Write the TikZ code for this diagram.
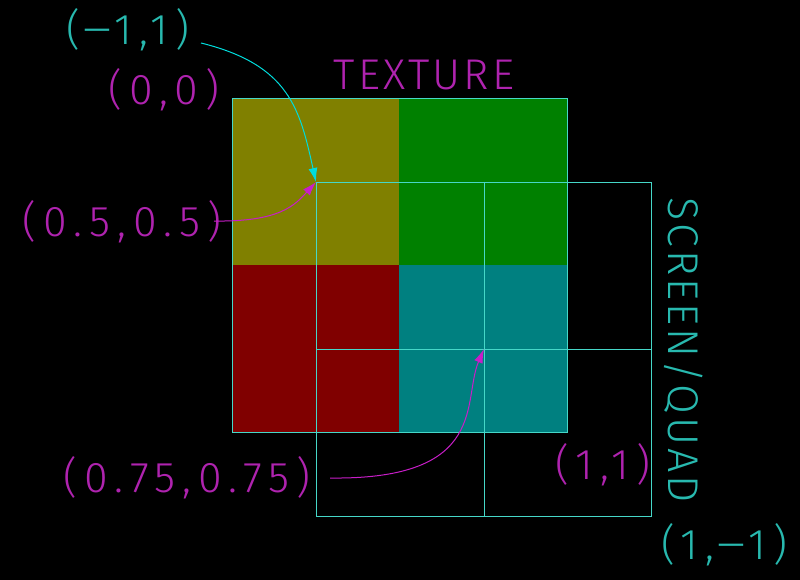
\documentclass[tikz,border=0pt]{standalone}
\usepackage{fontspec}
\setmainfont{Fira Sans Light}
\newfontfamily\coordfont[LetterSpace=16]{Fira Sans Light}
\newfontfamily\wordfont[LetterSpace=7]{Fira Sans Light}
\usetikzlibrary{arrows.meta}
\usepackage{xcolor}
\usepackage{graphicx}
\definecolor{olivetex}{RGB}{128,128,0}
\definecolor{greentex}{RGB}{0,128,0}
\definecolor{redtex}{RGB}{128,0,0}
\definecolor{tealtex}{RGB}{0,128,128}
\definecolor{quadline}{RGB}{70,215,200}
\definecolor{cyantext}{RGB}{40,185,175}
\definecolor{magtext}{RGB}{175,35,175}
\definecolor{cyanarrow}{RGB}{0,220,220}
\definecolor{magarrow}{RGB}{200,30,200}
\newcommand{\longminus}{\scalebox{1.6}[1]{−}}

\begin{document}
\begin{tikzpicture}[x=1pt,y=-1pt]

    \tikzset{coord/.style = {inner sep=0pt,font=\coordfont\fontsize{43}{43}\selectfont}}
    \tikzset{word/.style = {inner sep=0pt,font=\wordfont\fontsize{43}{43}\selectfont}}
    \tikzset{gridline/.style = {draw=quadline,line width=0.9pt}}
    \tikzset{pointer/.style = {-{Latex[length=14pt,width=9pt]},line width=1pt}}
    \fill[black] (0,0) rectangle (800,580);
    \useasboundingbox (0,0) rectangle (800,580);
    %texture
    \coordinate (T1) at (232,98);
    \coordinate (T2) at (399,265);
    \coordinate (T3) at (567,432);
    \fill[olivetex] (T1) rectangle (T2);
    \fill[greentex] (399,98) rectangle (567,265);
    \fill[redtex] (232,265) rectangle (399,432);
    \fill[tealtex] (T2) rectangle (T3);
    \draw[gridline] (T1) rectangle (T3);
    %screen quad
    \coordinate (Q1) at (316,182);
    \coordinate (Q2) at (484,349);
    \coordinate (Q3) at (651,516);
    \draw[gridline] (Q1) rectangle (Q3);
    \draw[gridline] (Q2 |- Q1) -- (Q2 |- Q3);
    \draw[gridline] (Q1 |- Q2) -- (Q3 |- Q2);
    %labels
    \node[coord,text=cyantext] (A) at (128,30) {(\longminus1,1)};
    \node[coord,text=magtext] (B) at (164,90) {(0,0)};
    \node[word,text=magtext] (C) at (424,75) {TEXTURE};
    \node[coord,text=magtext] (D) at (122,222) {(0.5,0.5)};
    \node[coord,text=magtext] (E) at (187,478) {(0.75,0.75)};
    \node[coord,text=magtext] (F) at (603,465) {(1,1)};
    \node[word,text=cyantext,rotate=-90] (G) at (684,350) {SCREEN/QUAD};
    \node[coord,text=cyantext] (H) at (724,545) {(1,\longminus1)};
    %arrows
    \coordinate (a) at (201,43);
    \coordinate (d) at (214,221);
    \coordinate (e) at (330,478);
    \draw[pointer,cyanarrow] (a) .. controls (290,65) and (300,110) .. (Q1);
    \draw[pointer,magarrow] (d) .. controls (280,222) and (295,205) .. (Q1);
    \draw[pointer,magarrow] (e) .. controls (490,480) and (462,400) .. (Q2);
    \end{tikzpicture}
\end{document}
